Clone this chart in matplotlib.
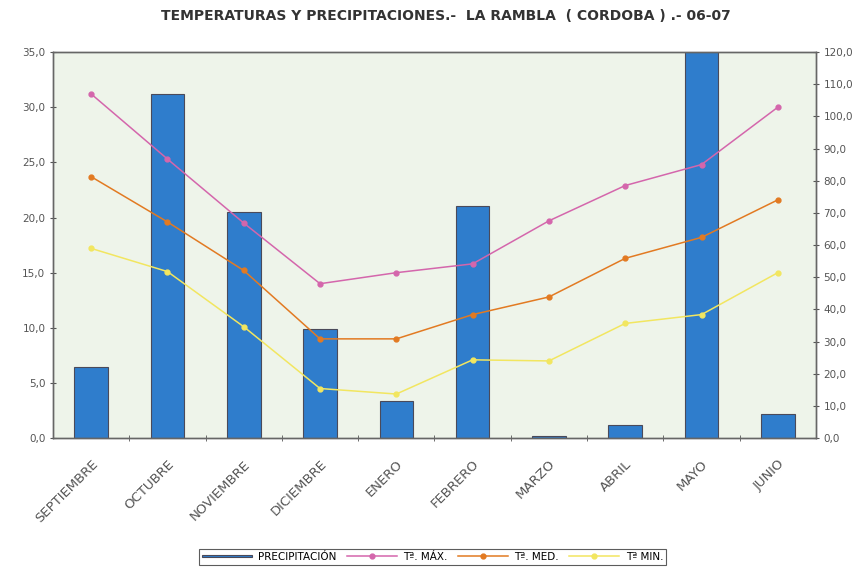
import numpy as np
import matplotlib
matplotlib.use("Agg")
import matplotlib.pyplot as plt

plt.rcParams['font.family'] = ['DejaVu Sans']

meses = ["SEPTIEMBRE", "OCTUBRE", "NOVIEMBRE", "DICIEMBRE", "ENERO",
         "FEBRERO", "MARZO", "ABRIL", "MAYO", "JUNIO"]
precipitacion = [22.2, 107.0, 70.3, 33.9, 11.6, 72.2, 0.8, 4.0, 135.0, 7.4]
t_max = [31.2, 25.3, 19.5, 14.0, 15.0, 15.8, 19.7, 22.9, 24.8, 30.0]
t_med = [23.7, 19.6, 15.2, 9.0, 9.0, 11.2, 12.8, 16.3, 18.2, 21.6]
t_min = [17.2, 15.1, 10.1, 4.5, 4.0, 7.1, 7.0, 10.4, 11.2, 15.0]

x = np.arange(len(meses))

fig = plt.figure(figsize=(8.65, 5.72), dpi=100)
ax = fig.add_axes([0.0613, 0.234, 0.882, 0.675])
ax.set_facecolor("#eef4ea")

# precipitation bars -> right scale
barras = ax.bar(x, precipitacion, width=0.44, color="#2f7dcc",
                edgecolor="#4a4a5a", linewidth=0.8, label="PRECIPITACIÓN")
ax.set_ylim(0, 120)
ax.set_xlim(-0.5, len(meses) - 0.5)

# temperature lines -> left scale
ax2 = ax.twinx()
l1, = ax2.plot(x, t_max, color="#d466ac", marker="o", markersize=3.5, lw=1.1, label="Tª. MÁX.")
l2, = ax2.plot(x, t_med, color="#e27a22", marker="o", markersize=3.5, lw=1.1, label="Tª. MED.")
l3, = ax2.plot(x, t_min, color="#f2e660", marker="o", markersize=3.5, lw=1.1, label="Tª MIN.")
ax2.set_ylim(0, 35)

# swap sides: precipitation on the right, temperature on the left
ax.yaxis.tick_right()
ax2.yaxis.tick_left()
ax.set_yticks(np.arange(0, 121, 10))
ax.set_yticklabels([f"{v:.1f}".replace(".", ",") for v in np.arange(0, 121, 10)])
ax2.set_yticks(np.arange(0, 36, 5))
ax2.set_yticklabels([f"{v:.1f}".replace(".", ",") for v in np.arange(0, 36, 5)])

ax.set_xticks(x)
ax.set_xticklabels(meses, rotation=45, ha="right", rotation_mode="anchor")
ax.set_xticks(x[:-1] + 0.5, minor=True)
ax.tick_params(axis="x", which="major", length=0, labelsize=9.5, colors="#555555", pad=14)
ax.tick_params(axis="x", which="minor", length=4, color="#555555", direction="inout")
ax.tick_params(axis="y", labelsize=7.5, colors="#555555", length=4, direction="inout")
ax2.tick_params(axis="y", labelsize=7.5, colors="#555555", length=4, direction="inout")
for a in (ax, ax2):
    for s in a.spines.values():
        s.set_color("#666666")
        s.set_linewidth(1.0)

fig.text(0.515, 0.972, "TEMPERATURAS Y PRECIPITACIONES.-  LA RAMBLA  ( CORDOBA ) .- 06-07",
         ha="center", va="center", fontsize=10, fontweight="bold", color="#333333")

leg = fig.legend([barras, l1, l2, l3],
                 ["PRECIPITACIÓN", "Tª. MÁX.", "Tª. MED.", "Tª MIN."],
                 loc="center", bbox_to_anchor=(0.5, 0.026), ncol=4, fontsize=7.5,
                 frameon=True, fancybox=False, edgecolor="#333333",
                 handlelength=4.8, columnspacing=1.0, borderpad=0.3, handletextpad=0.6)
leg.get_frame().set_linewidth(0.8)
leg.legend_handles[0].set_height(2)
leg.legend_handles[0].set_y(2)

fig.savefig("out.png", dpi=100)
